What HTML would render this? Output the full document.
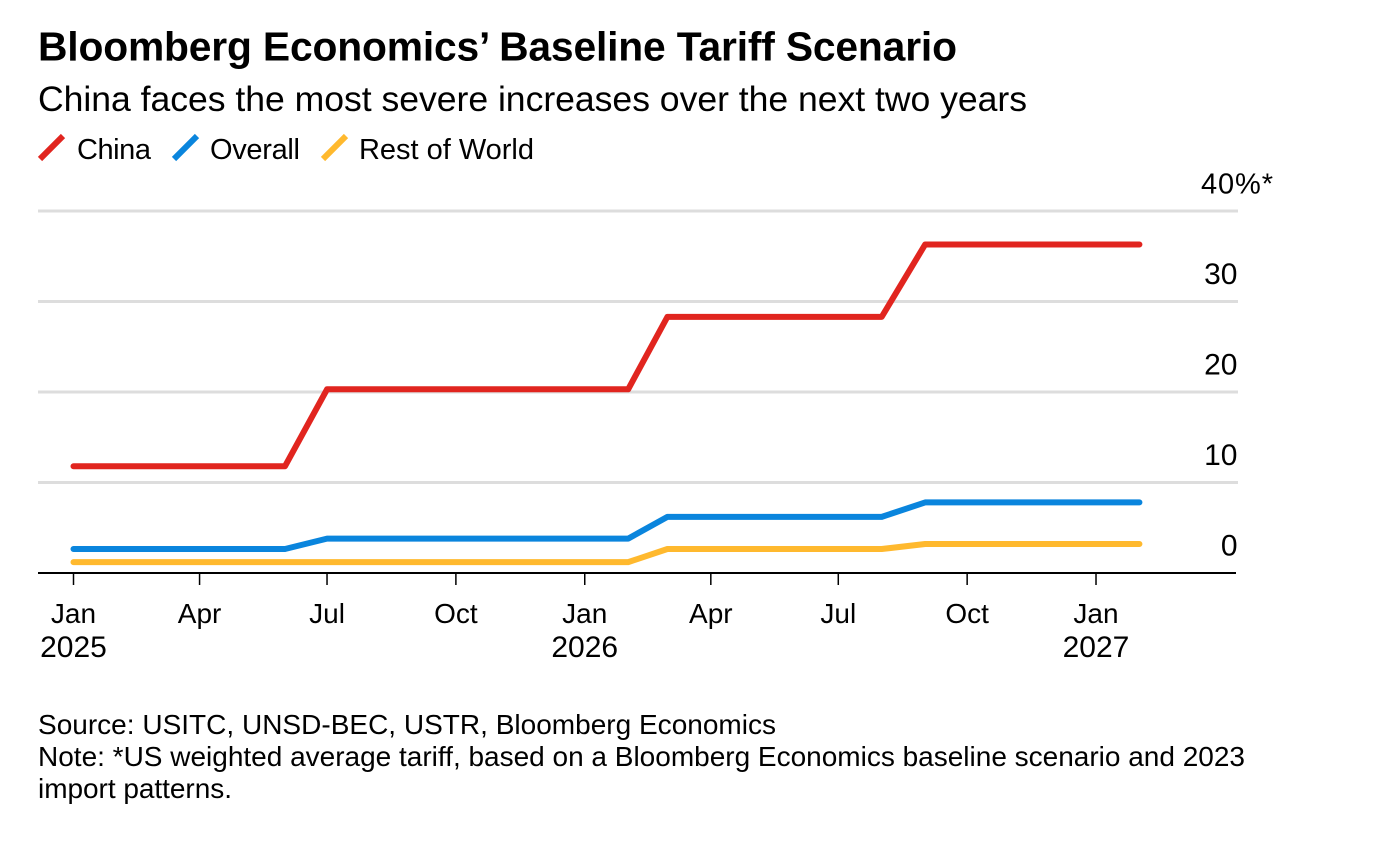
<!DOCTYPE html>
<html lang="en">
<head>
<meta charset="utf-8">
<title>Bloomberg Economics’ Baseline Tariff Scenario</title>
<style>
html,body{margin:0;padding:0;background:#fff;width:1374px;height:862px;overflow:hidden}
svg{display:block}
text{font-family:"Liberation Sans",Arial,sans-serif;fill:#000}
</style>
</head>
<body>
<svg id="chart" xmlns="http://www.w3.org/2000/svg" width="1374" height="862" viewBox="0 0 1374 862">
  <text x="38" y="60.5" font-size="40.8" font-weight="700" textLength="919" lengthAdjust="spacing">Bloomberg Economics’ Baseline Tariff Scenario</text>
  <text x="38" y="111" font-size="35.6" textLength="989" lengthAdjust="spacing">China faces the most severe increases over the next two years</text>

  <g>
    <g>
      <line x1="40" y1="159" x2="63" y2="136" stroke="#e1251f" stroke-width="6"/>
      <text x="77" y="159" font-size="29" textLength="74" lengthAdjust="spacing">China</text>
    </g>
    <g>
      <line x1="174" y1="159" x2="197" y2="136" stroke="#0a85dd" stroke-width="6"/>
      <text x="210" y="159" font-size="29" textLength="90" lengthAdjust="spacing">Overall</text>
    </g>
    <g>
      <line x1="323" y1="159" x2="346" y2="136" stroke="#ffb92e" stroke-width="6"/>
      <text x="359" y="159" font-size="29" textLength="175" lengthAdjust="spacing">Rest of World</text>
    </g>
  </g>

  <g id="grid"></g>
  <g id="yLabels"></g>
  <g id="series"></g>
  <line x1="38" y1="573" x2="1236" y2="573" stroke="#000" stroke-width="2"/>
  <g id="xAxis"></g>

  <text x="38" y="734" font-size="28" textLength="738" lengthAdjust="spacing">Source: USITC, UNSD-BEC, USTR, Bloomberg Economics</text>
  <text x="38" y="766" font-size="28" textLength="1207" lengthAdjust="spacing">Note: *US weighted average tariff, based on a Bloomberg Economics baseline scenario and 2023</text>
  <text x="38" y="798" font-size="28" textLength="194" lengthAdjust="spacing">import patterns.</text>
</svg>
<script>
// Monthly observations, Jan 2025 to Feb 2027
var months = ["2025-01","2025-02","2025-03","2025-04","2025-05","2025-06","2025-07","2025-08","2025-09","2025-10","2025-11","2025-12",
              "2026-01","2026-02","2026-03","2026-04","2026-05","2026-06","2026-07","2026-08","2026-09","2026-10","2026-11","2026-12",
              "2027-01","2027-02"];
var china   = [11.8,11.8,11.8,11.8,11.8,11.8,20.3,20.3,20.3,20.3,20.3,20.3,20.3,20.3,28.3,28.3,28.3,28.3,28.3,28.3,36.3,36.3,36.3,36.3,36.3,36.3];
var overall = [2.65,2.65,2.65,2.65,2.65,2.65,3.8,3.8,3.8,3.8,3.8,3.8,3.8,3.8,6.2,6.2,6.2,6.2,6.2,6.2,7.8,7.8,7.8,7.8,7.8,7.8];
var restOfWorld = [1.2,1.2,1.2,1.2,1.2,1.2,1.2,1.2,1.2,1.2,1.2,1.2,1.2,1.2,2.65,2.65,2.65,2.65,2.65,2.65,3.2,3.2,3.2,3.2,3.2,3.2];
var yTicks = [0,10,20,30,40];
var yTickLabels = ["0","10","20","30","40%*"];
var xTicks = ["2025-01","2025-04","2025-07","2025-10","2026-01","2026-04","2026-07","2026-10","2027-01"];
var xTickLabels = ["Jan","Apr","Jul","Oct","Jan","Apr","Jul","Oct","Jan"];
var xYearLabels = ["2025","","","","2026","","","","2027"];

var NS = "http://www.w3.org/2000/svg";
function days(m){
  var p = m.split("-");
  return (Date.UTC(+p[0], +p[1]-1, 1) - Date.UTC(2025,0,1)) / 86400000;
}
function xScale(m){ return 73.5 + days(m) * 1.4007; }
function yScale(v){ return 573 - v * 9.05; }
function make(tag, attrs, parent, txt){
  var el = document.createElementNS(NS, tag);
  for (var k in attrs) el.setAttribute(k, attrs[k]);
  if (txt !== undefined) el.textContent = txt;
  parent.appendChild(el);
  return el;
}

var grid = document.getElementById("grid");
var yLabels = document.getElementById("yLabels");
yTicks.forEach(function(t, i){
  if (t !== 0) {
    var gl = make("line", {x1:38, x2:1238, y1:yScale(t), y2:yScale(t), stroke:"#dddddd", "stroke-width":3}, grid);
    
    
  }
  var isTop = i === yTicks.length - 1;
  var attrs = {
    x: isTop ? 1201 : 1237.5,
    y: yScale(t) - 17.5,
    "font-size": isTop ? 29 : 30,
    "text-anchor": isTop ? "start" : "end"
  };
  if (isTop) { attrs.textLength = 72; attrs.lengthAdjust = "spacing"; }
  var lb = make("text", attrs, yLabels, yTickLabels[i]);
  
  
});

var xAxis = document.getElementById("xAxis");
xTicks.forEach(function(m, i){
  var x = xScale(m);
  var tk = make("line", {x1:x, x2:x, y1:573, y2:585, stroke:"#000", "stroke-width":1.5}, xAxis);
  
  
  var lb = make("text", {x:x, y:623, "font-size":28, "text-anchor":"middle"}, xAxis, xTickLabels[i]);
  
  
  if (xYearLabels[i]) {
    var yr = make("text", {x:x, y:657, "font-size":30, "text-anchor":"middle"}, xAxis, xYearLabels[i]);
    
    
  }
});

var seriesGroup = document.getElementById("series");
function drawLine(values, color){
  var pts = values.map(function(v, i){
    return xScale(months[i]).toFixed(2) + "," + yScale(v).toFixed(2);
  }).join(" ");
  return make("polyline", {
    points: pts, fill: "none", stroke: color, "stroke-width": 6,
    "stroke-linejoin": "round", "stroke-linecap": "round"
  }, seriesGroup);
}
var lineRest = drawLine(restOfWorld, "#ffb92e");


var lineOverall = drawLine(overall, "#0a85dd");


var lineChina = drawLine(china, "#e1251f");


</script>
</body>
</html>
